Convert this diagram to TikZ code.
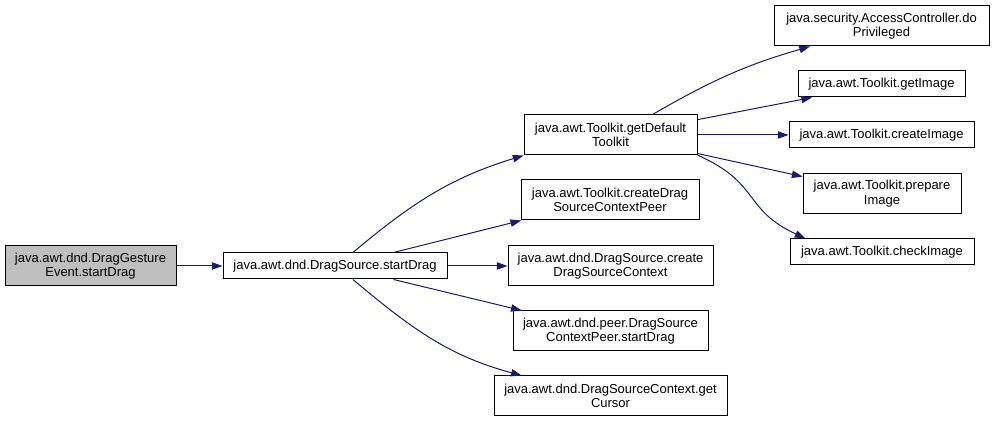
\documentclass[tikz,border=0pt]{standalone}
\usepackage{fontspec}
\setmainfont{Liberation Sans}
\usepackage{tikz}
\usetikzlibrary{arrows.meta}
\definecolor{CallBlue}{HTML}{191970}
\definecolor{RootGray}{HTML}{BFBFBF}

\begin{document}
\begin{tikzpicture}[x=0.75pt,y=0.75pt,
  fn/.style={draw,line width=0.75pt,inner sep=0pt,align=center,minimum height=19.5pt,
    font=\fontsize{9.75}{11}\selectfont},
  two/.style={minimum height=30pt},
  call/.style={draw=CallBlue,line width=0.75pt,-{Triangle[length=8pt,width=5.5pt]}}]
  \useasboundingbox (0,0) rectangle (995,423);
  \node[fn,two,fill=RootGray,minimum width=128.25pt] (root) at (90.5,157) {java.awt.dnd.DragGesture\\Event.startDrag};
  \node[fn,minimum width=168pt] (start) at (335,157) {java.awt.dnd.DragSource.startDrag};
  \node[fn,two,minimum width=129.75pt] (getdef) at (610.5,288) {java.awt.Toolkit.getDefault\\Toolkit};
  \node[fn,two,minimum width=133.5pt] (peer) at (610,223) {java.awt.Toolkit.createDrag\\SourceContextPeer};
  \node[fn,two,minimum width=153.75pt] (create) at (610.5,157) {java.awt.dnd.DragSource.create\\DragSourceContext};
  \node[fn,two,minimum width=146.25pt] (pstart) at (610.5,92) {java.awt.dnd.peer.DragSource\\ContextPeer.startDrag};
  \node[fn,two,minimum width=174.75pt] (cursor) at (610.5,27) {java.awt.dnd.DragSourceContext.get\\Cursor};
  \node[fn,two,minimum width=161.25pt] (access) at (881.5,397) {java.security.AccessController.do\\Privileged};
  \node[fn,minimum width=125.25pt] (getimg) at (881.5,339) {java.awt.Toolkit.getImage};
  \node[fn,minimum width=138.75pt] (createimg) at (881.5,288) {java.awt.Toolkit.createImage};
  \node[fn,two,minimum width=118.5pt] (prepare) at (882,229.5) {java.awt.Toolkit.prepare\\Image};
  \node[fn,minimum width=138pt] (check) at (882,171) {java.awt.Toolkit.checkImage};

  \draw[call] (root) -- (start);
  \draw[call] (start.37) to[out=40,in=197] (getdef.south west);
  \draw[call] (start.13) -- (peer.193);
  \draw[call] (start) -- (create);
  \draw[call] (start.-13) -- (pstart.167);
  \draw[call] (start.-37) to[out=-40,in=165] (cursor.167);
  \draw[call] (getdef.26) to[out=30,in=196] (access.196);
  \draw[call] (getdef.10) -- (getimg.191);
  \draw[call] (getdef) -- (createimg);
  \draw[call] (getdef.-12) -- (prepare.168);
  \draw[call] (getdef.-13) .. controls +(-24:52pt) and +(155:52pt) .. (check.170);
\end{tikzpicture}
\end{document}
